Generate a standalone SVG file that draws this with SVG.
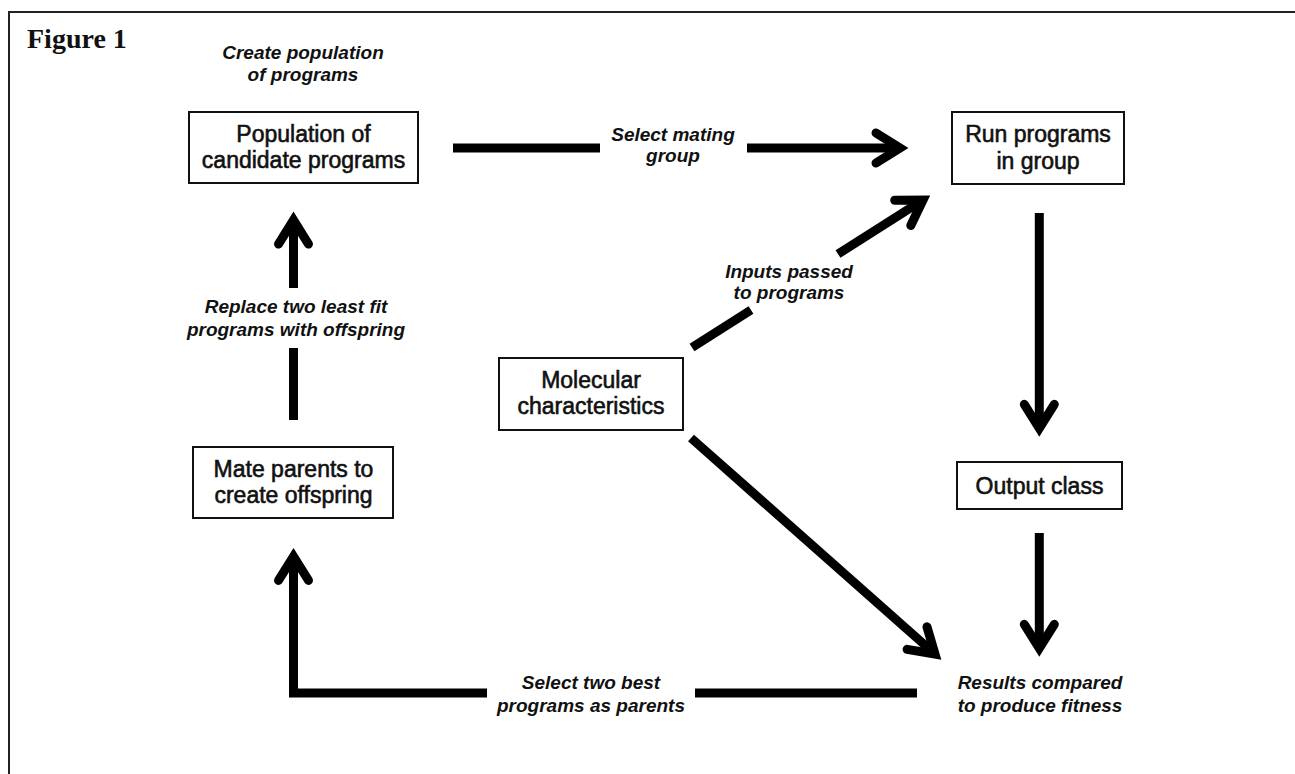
<svg xmlns="http://www.w3.org/2000/svg" width="1295" height="774" viewBox="0 0 1295 774">
<defs>
<style>
.frame{fill:none;stroke:#222;stroke-width:2}
.box{fill:#fff;stroke:#111;stroke-width:2}
.bt{font-family:"Liberation Sans",Arial,sans-serif;font-size:23px;fill:#111;stroke:#111;stroke-width:0.6;text-anchor:middle}
.lab{font-family:"Liberation Sans",Arial,sans-serif;font-size:19px;font-weight:bold;font-style:italic;fill:#111;text-anchor:middle}
.fig{font-family:"Liberation Serif","Times New Roman",serif;font-size:28px;font-weight:bold;fill:#111}
.c{fill:none;stroke:#000;stroke-width:9;stroke-linejoin:miter}
</style>
<marker id="ah" markerUnits="userSpaceOnUse" viewBox="-40 -30 60 60" refX="0" refY="0" markerWidth="60" markerHeight="60" orient="auto" overflow="visible">
<path d="M-24,-15 L0,0 L-24,15" fill="none" stroke="#000" stroke-width="9" stroke-linecap="round" stroke-linejoin="miter"/>
</marker>
</defs>
<rect width="1295" height="774" fill="#fff"/>
<path class="frame" d="M9,774 V12 H1295"/>
<text class="fig" x="27" y="48">Figure 1</text>

<g id="connectors">
<line class="c" x1="453" y1="148" x2="600" y2="148"/>
<line class="c" x1="747" y1="148" x2="900" y2="148" marker-end="url(#ah)"/>
<line class="c" x1="692" y1="347.5" x2="751" y2="310"/>
<line class="c" x1="838" y1="254" x2="923" y2="200" marker-end="url(#ah)"/>
<line class="c" x1="691" y1="438" x2="935" y2="654" marker-end="url(#ah)"/>
<line class="c" x1="1039.3" y1="213" x2="1039.3" y2="428.3" marker-end="url(#ah)"/>
<line class="c" x1="1039.3" y1="533" x2="1039.3" y2="648.3" marker-end="url(#ah)"/>
<line class="c" x1="917" y1="693" x2="695" y2="693"/>
<path class="c" d="M487,693 H293.5 V556.4" marker-end="url(#ah)"/>
<line class="c" x1="293.5" y1="420" x2="293.5" y2="348"/>
<line class="c" x1="293.5" y1="288" x2="293.5" y2="220.1" marker-end="url(#ah)"/>
</g>

<g id="labels">
<text class="lab" x="303" y="59">Create population</text>
<text class="lab" x="303" y="81">of programs</text>
<text class="lab" x="673" y="141">Select mating</text>
<text class="lab" x="673" y="162">group</text>
<text class="lab" x="789" y="277.5">Inputs passed</text>
<text class="lab" x="789" y="298.5">to programs</text>
<text class="lab" x="296" y="313">Replace two least fit</text>
<text class="lab" x="296" y="336">programs with offspring</text>
<text class="lab" x="591" y="689">Select two best</text>
<text class="lab" x="591" y="711.5">programs as parents</text>
<text class="lab" x="1040" y="689">Results compared</text>
<text class="lab" x="1040" y="711.5">to produce fitness</text>
</g>

<g id="node-population">
<rect class="box" x="189" y="112" width="229" height="71"/>
<text class="bt" x="303.5" y="142">Population of</text>
<text class="bt" x="303.5" y="168">candidate programs</text>
</g>
<g id="node-run">
<rect class="box" x="952" y="112" width="172" height="72"/>
<text class="bt" x="1038" y="142">Run programs</text>
<text class="bt" x="1038" y="168.5">in group</text>
</g>
<g id="node-molecular">
<rect class="box" x="499" y="358" width="184" height="72"/>
<text class="bt" x="591" y="387.5">Molecular</text>
<text class="bt" x="591" y="414">characteristics</text>
</g>
<g id="node-output">
<rect class="box" x="957" y="462" width="165" height="47"/>
<text class="bt" x="1039.5" y="493.5">Output class</text>
</g>
<g id="node-mate">
<rect class="box" x="193" y="447" width="200" height="71"/>
<text class="bt" x="293.5" y="476.5">Mate parents to</text>
<text class="bt" x="293.5" y="503">create offspring</text>
</g>
</svg>
